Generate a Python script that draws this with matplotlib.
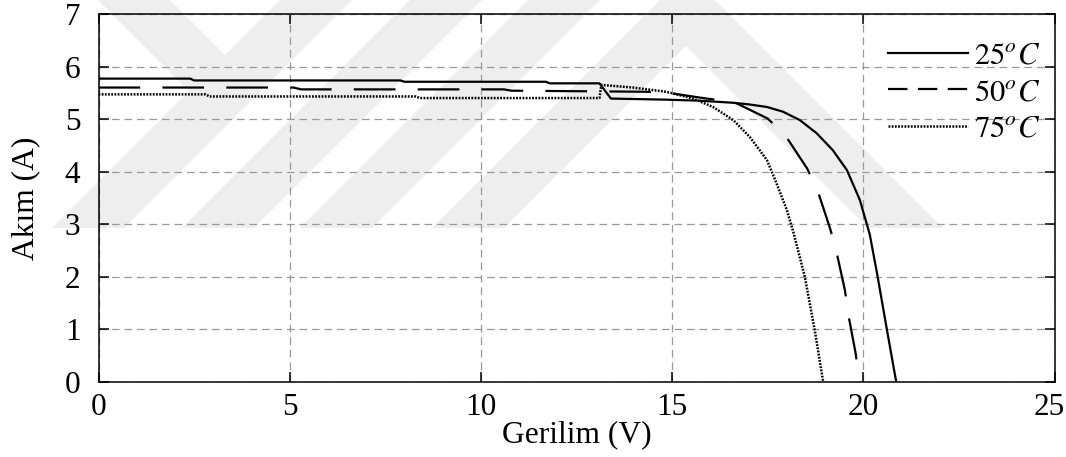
import matplotlib
matplotlib.use('Agg')
import matplotlib.pyplot as plt
import matplotlib.transforms as mtransforms
from matplotlib.patches import Polygon
from matplotlib.lines import Line2D

plt.rcParams['font.family'] = ['Liberation Serif', 'DejaVu Serif']
plt.rcParams['mathtext.fontset'] = 'stix'
plt.rcParams['lines.scale_dashes'] = False

# I-V curves (V in volts, I in amps)
v25 = [0, 2.4, 2.5, 7.9, 8.0, 11.7, 11.8, 13.1, 13.4, 14.8, 15.7, 16.6, 17.0,
       17.48, 17.9, 18.34, 18.78, 19.2, 19.57, 19.91, 20.17, 20.36, 20.62, 20.86]
i25 = [5.77, 5.77, 5.735, 5.735, 5.71, 5.71, 5.68, 5.68, 5.39, 5.37, 5.35, 5.31, 5.28,
       5.23, 5.14, 4.98, 4.73, 4.41, 4.03, 3.46, 2.80, 2.06, 0.98, 0.0]

v50 = [0, 5.1, 5.3, 10.6, 10.8, 14.3, 14.9, 15.9, 16.6, 17.5, 17.96, 18.53,
       18.8, 19.13, 19.29, 19.52, 19.6, 19.8, 19.9]
i50 = [5.60, 5.60, 5.565, 5.565, 5.54, 5.52, 5.50, 5.39, 5.33, 5.01, 4.69, 4.06,
       3.65, 2.92, 2.5, 1.74, 1.31, 0.54, 0.0]

v75 = [0, 2.8, 2.9, 8.3, 8.4, 13.1, 13.15, 13.97, 14.84, 15.55, 16.07, 16.6,
       17.03, 17.48, 17.73, 18.0, 18.17, 18.47, 18.73, 18.95]
i75 = [5.47, 5.47, 5.43, 5.43, 5.40, 5.40, 5.65, 5.60, 5.52, 5.39, 5.23, 4.98,
       4.66, 4.22, 3.78, 3.27, 2.85, 2.0, 0.98, 0.0]

labels = [r'$25^oC$', r'$50^oC$', r'$75^oC$']
xticks = [0, 5, 10, 15, 20, 25]
yticks = [0, 1, 2, 3, 4, 5, 6, 7]

W, H = 1066, 457
fig = plt.figure(figsize=(W / 100, H / 100), dpi=100)


def px(pts):
    return [(x / W, 1 - y / H) for x, y in pts]


# faint background watermark, kept behind the axes
wm = '#eeeeee'
shapes = [
    [(98, 0), (170, 0), (225, 55), (225, 127)],
    [(280, 0), (352, 0), (124, 228), (52, 228)],
    [(410, 0), (482, 0), (254, 228), (182, 228)],
    [(528, 0), (600, 0), (372, 228), (300, 228)],
    [(660, 0), (715, 0), (943, 228), (868, 228), (686, 46), (504, 228), (432, 228)],
]
for s in shapes:
    fig.patches.append(Polygon(px(s), closed=True, facecolor=wm, edgecolor='none',
                               transform=fig.transFigure, zorder=-10))

ax = fig.add_axes([98.5 / W, 1 - 381.7 / H, 956 / W, 367.7 / H])
ax.set_zorder(1)
ax.patch.set_visible(False)

ax.plot(v25, i25, color='black', lw=1.6)
ax.plot(v50, i50, color='black', lw=1.6, linestyle=(0, (30, 16)))
ax.plot(v75, i75, color='black', lw=1.8, linestyle=(0, (1.3, 1.0)))

ax.set_xlim(0, 25)
ax.set_ylim(0, 7)
ax.set_xticks(xticks)
ax.set_yticks(yticks)
ax.set_axisbelow(True)
ax.grid(True, color='#999999', linestyle=(0, (5.5, 3.5)), linewidth=0.9)
for sp in ax.spines.values():
    sp.set_linewidth(1.1)

ax.tick_params(direction='in', top=True, right=True, length=7, width=1.1, labelsize=22.5)
ax.tick_params(axis='x', pad=8)
ax.tick_params(axis='y', pad=13)

# nudge the last x label so it stays inside the canvas
last = ax.get_xticklabels()[-1]
last.set_transform(last.get_transform() +
                   mtransforms.ScaledTranslation(-5 / 100, 0, fig.dpi_scale_trans))

ax.set_xlabel('Gerilim (V)', fontsize=22.7, labelpad=-1)
ax.set_ylabel('Akım (A)', fontsize=22.7, labelpad=18)

handles = [Line2D([], [], color='black', lw=1.6),
           Line2D([], [], color='black', lw=1.6, linestyle=(0, (14, 7.5))),
           Line2D([], [], color='black', lw=1.8, linestyle=(0, (1.3, 1.0)))]
ax.legend(handles, labels, loc='upper right', bbox_to_anchor=(1 + 13 / 956, 1),
          frameon=False, handlelength=2.6, handletextpad=0.2, labelspacing=0.25,
          fontsize=22, borderaxespad=0.7, borderpad=0.2)

fig.savefig('out.png', dpi=100)
